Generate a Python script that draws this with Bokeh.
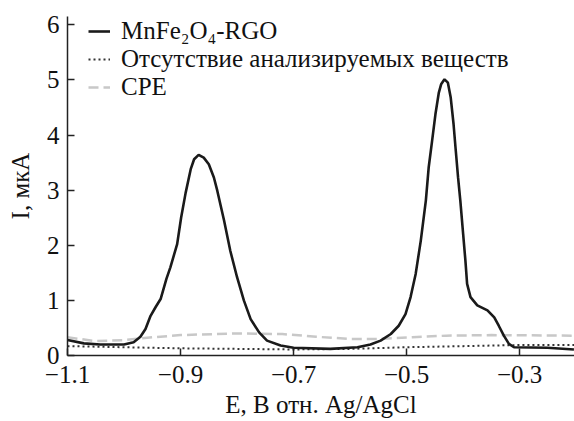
from bokeh.plotting import figure
from bokeh.models import (Range1d, FixedTicker, Legend, LegendItem)
from bokeh.embed import file_html
from bokeh.resources import INLINE

# ---- data ----
main_E = [-1.1, -1.071, -1.042, -1.0, -0.983, -0.971, -0.962, -0.953, -0.944, -0.935,
          -0.925, -0.918, -0.906, -0.899, -0.891, -0.882, -0.876, -0.868, -0.859, -0.850,
          -0.841, -0.835, -0.823, -0.812, -0.800, -0.788, -0.776, -0.761, -0.747,
          -0.723, -0.700, -0.635, -0.587, -0.564, -0.546, -0.528, -0.514, -0.502, -0.493,
          -0.484, -0.475, -0.466, -0.461, -0.455, -0.449, -0.443, -0.439, -0.433, -0.427,
          -0.422, -0.417, -0.413, -0.409, -0.405, -0.400, -0.396, -0.393, -0.387, -0.375,
          -0.357, -0.345, -0.337, -0.328, -0.319, -0.310, -0.251, -0.204]
main_I = [0.28, 0.22, 0.20, 0.20, 0.24, 0.34, 0.48, 0.72, 0.88, 1.03,
          1.39, 1.60, 2.02, 2.50, 2.95, 3.38, 3.56, 3.64, 3.59, 3.47,
          3.23, 2.99, 2.45, 1.90, 1.42, 1.00, 0.66, 0.42, 0.27,
          0.18, 0.14, 0.12, 0.15, 0.20, 0.27, 0.39, 0.54, 0.75, 1.06,
          1.48, 2.08, 2.81, 3.41, 3.89, 4.38, 4.77, 4.92, 5.01, 4.95,
          4.68, 4.20, 3.71, 3.23, 2.81, 2.20, 1.72, 1.30, 1.06, 0.91,
          0.82, 0.69, 0.54, 0.36, 0.21, 0.15, 0.14, 0.11]

blank_E = [-1.1, -1.0, -0.9, -0.8, -0.7, -0.6, -0.5, -0.4, -0.3, -0.2]
blank_I = [0.17, 0.15, 0.13, 0.12, 0.11, 0.12, 0.15, 0.17, 0.19, 0.19]

cpe_E = [-1.1, -1.05, -1.0, -0.95, -0.9, -0.8, -0.72, -0.66, -0.6, -0.55, -0.49, -0.43, -0.35, -0.2]
cpe_I = [0.33, 0.26, 0.28, 0.33, 0.37, 0.40, 0.39, 0.34, 0.30, 0.30, 0.33, 0.36, 0.37, 0.36]

x_ticks = [-1.1, -0.9, -0.7, -0.5, -0.3]
x_tick_labels = ["\u22121.1", "\u22120.9", "\u22120.7", "\u22120.5", "\u22120.3"]
y_ticks = [0, 1, 2, 3, 4, 5, 6]

names = ["MnFe\u2082O\u2084-RGO",
         "\u041e\u0442\u0441\u0443\u0442\u0441\u0442\u0432\u0438\u0435 \u0430\u043d\u0430\u043b\u0438\u0437\u0438\u0440\u0443\u0435\u043c\u044b\u0445 \u0432\u0435\u0449\u0435\u0441\u0442\u0432",
         "CPE"]
x_label = "E, \u0412 \u043e\u0442\u043d. Ag/AgCl"
y_label = "I, \u043c\u043a\u0410"

FONT = "serif"
FS = "25px"
AX = "#222222"
TXT = "#111111"

p = figure(width=574, height=421, output_backend="svg", toolbar_location=None,
           x_range=Range1d(-1.1, -0.203), y_range=Range1d(0, 6.15),
           min_border_left=67, min_border_right=0, min_border_top=16, min_border_bottom=66)
p.outline_line_color = None
p.xgrid.visible = False
p.ygrid.visible = False
p.background_fill_color = "white"
p.border_fill_color = "white"

r_cpe = p.line(cpe_E, cpe_I, line_color="#c8c8c8", line_width=2.5, line_dash="10 5")
r_blank = p.line(blank_E, blank_I, line_color="#333333", line_width=2, line_dash="2 3")
r_main = p.line(main_E, main_I, line_color="#1a1a1a", line_width=2.6)

for ax in (p.xaxis[0], p.yaxis[0]):
    ax.axis_line_color = AX
    ax.axis_line_width = 1.5
    ax.major_tick_line_color = AX
    ax.major_tick_line_width = 1.5
    ax.major_tick_in = 7
    ax.major_tick_out = 0
    ax.minor_tick_line_color = None
    ax.major_label_text_font = FONT
    ax.major_label_text_font_size = FS
    ax.major_label_text_color = TXT
    ax.axis_label_text_font = FONT
    ax.axis_label_text_font_size = FS
    ax.axis_label_text_font_style = "normal"
    ax.axis_label_text_color = TXT

p.xaxis[0].ticker = FixedTicker(ticks=x_ticks)
p.xaxis[0].major_label_overrides = {t: l for t, l in zip(x_ticks, x_tick_labels)}
p.xaxis[0].major_label_standoff = 10
p.xaxis[0].axis_label = x_label
p.xaxis[0].axis_label_standoff = 5
p.yaxis[0].ticker = FixedTicker(ticks=y_ticks)
p.yaxis[0].major_label_standoff = 8
p.yaxis[0].axis_label = y_label
p.yaxis[0].axis_label_standoff = 10

legend = Legend(items=[LegendItem(label=names[0], renderers=[r_main]),
                       LegendItem(label=names[1], renderers=[r_blank]),
                       LegendItem(label=names[2], renderers=[r_cpe])],
                location=(21, 254), orientation="vertical",
                glyph_width=22, glyph_height=26, label_height=26, spacing=-5,
                label_standoff=11, padding=0, margin=0,
                border_line_alpha=0, background_fill_alpha=0,
                label_text_font=FONT, label_text_font_size=FS,
                label_text_color=TXT)
p.add_layout(legend)

open("out.html", "w").write(file_html(p, INLINE))
